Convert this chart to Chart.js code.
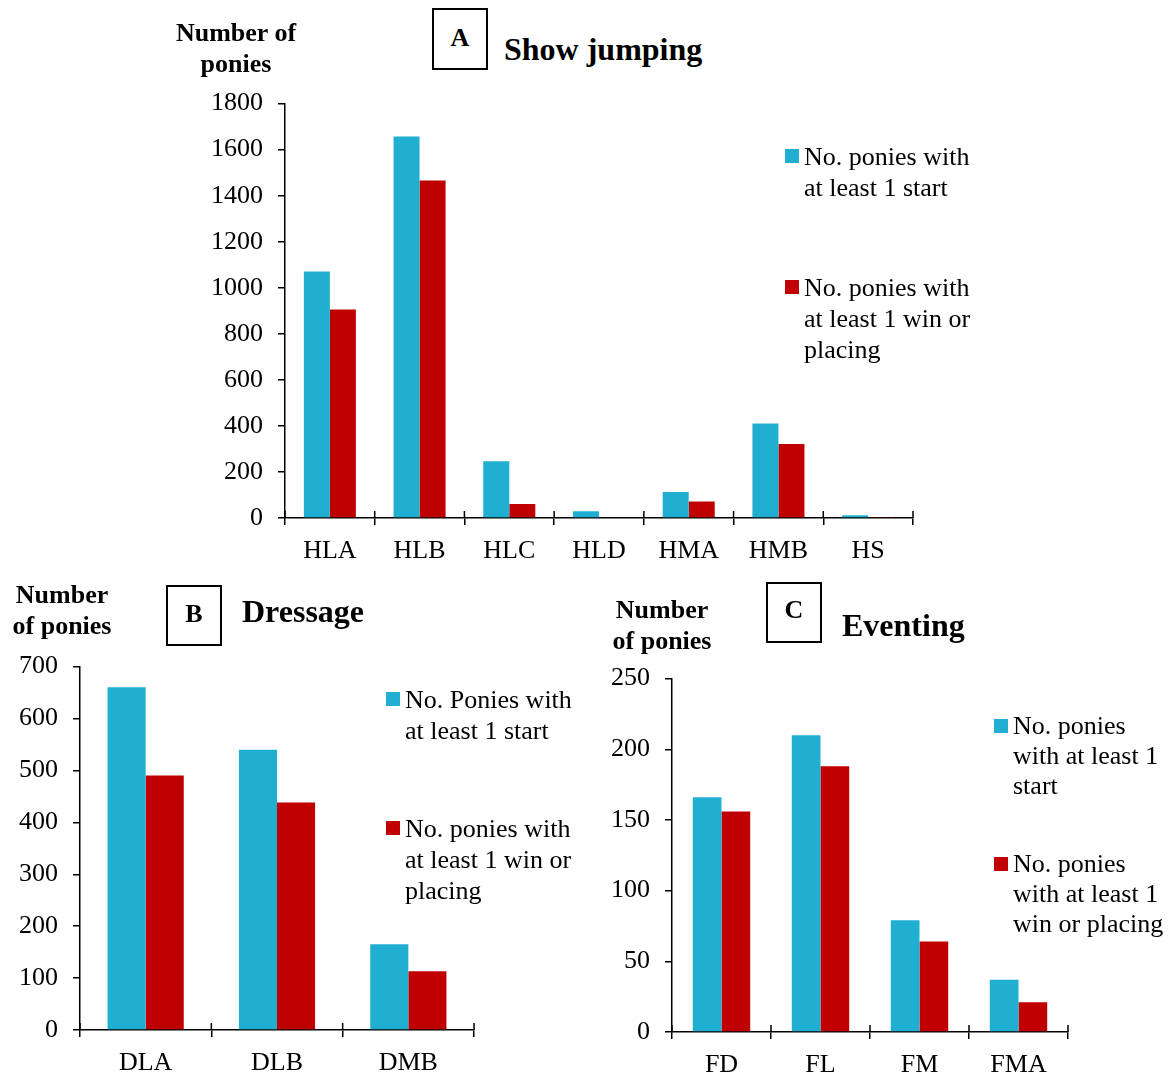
<!DOCTYPE html>
<html>
<head>
<meta charset="utf-8">
<script src="https://cdn.jsdelivr.net/npm/chart.js@4/dist/chart.umd.min.js"></script>
<style>
  html, body { margin: 0; padding: 0; background: #fff; }
  body { width: 1174px; height: 1075px; position: relative; overflow: hidden;
         font-family: 'Liberation Serif', 'Times New Roman', serif; color: #000; }
  canvas { position: absolute; }
  .t { position: absolute; white-space: nowrap; }
  .axt { font-weight: bold; font-size: 26px; line-height: 31px; text-align: center; }
  .box { position: absolute; border: 2px solid #000; box-sizing: border-box;
         font-weight: bold; font-size: 26px; text-align: center; }
  .title { font-weight: bold; font-size: 32px; line-height: 38px; }
  .leg { font-size: 26px; line-height: 31px; }
  .sq { position: absolute; width: 14px; height: 14px; }
</style>
</head>
<body>

<canvas id="chartA" width="730" height="497" style="left:200px;top:73px"></canvas>
<canvas id="chartB" width="490" height="439" style="left:0px;top:636px"></canvas>
<canvas id="chartC" width="500" height="427" style="left:590px;top:648px"></canvas>

<!-- panel A headings -->
<div class="t axt" style="left:146px;top:17px;width:180px">Number of<br>ponies</div>
<div class="box" style="left:432px;top:8px;width:56px;height:62px;line-height:56px">A</div>
<div class="t title" style="left:504px;top:30px">Show jumping</div>

<!-- panel B headings -->
<div class="t axt" style="left:-28px;top:579px;width:180px">Number<br>of ponies</div>
<div class="box" style="left:166px;top:585px;width:56px;height:61px;line-height:54px">B</div>
<div class="t title" style="left:242px;top:592px">Dressage</div>

<!-- panel C headings -->
<div class="t axt" style="left:572px;top:594px;width:180px">Number<br>of ponies</div>
<div class="box" style="left:766px;top:582px;width:56px;height:61px;line-height:52px">C</div>
<div class="t title" style="left:842px;top:606px">Eventing</div>

<div id="legends"></div>

<script>
// Show jumping (panel A)
const jumpCategories = ['HLA', 'HLB', 'HLC', 'HLD', 'HMA', 'HMB', 'HS'];
const jumpStarted = [1071, 1657, 247, 29, 113, 411, 12];
const jumpPlaced = [906, 1466, 61, 3, 72, 321, 2];
const jumpTicks = [0, 200, 400, 600, 800, 1000, 1200, 1400, 1600, 1800];

// Dressage (panel B)
const dressCategories = ['DLA', 'DLB', 'DMB'];
const dressStarted = [660, 540, 165];
const dressPlaced = [490, 438, 113];
const dressTicks = [0, 100, 200, 300, 400, 500, 600, 700];

// Eventing (panel C)
const eventCategories = ['FD', 'FL', 'FM', 'FMA'];
const eventStarted = [166, 210, 79, 37];
const eventPlaced = [156, 188, 64, 21];
const eventTicks = [0, 50, 100, 150, 200, 250];

// legend wording per panel (one entry per line)
const jumpLegend = [['No. ponies with', 'at least 1 start'], ['No. ponies with', 'at least 1 win or', 'placing']];
const dressLegend = [['No. Ponies with', 'at least 1 start'], ['No. ponies with', 'at least 1 win or', 'placing']];
const eventLegend = [['No. ponies', 'with at least 1', 'start'], ['No. ponies', 'with at least 1', 'win or placing']];

const BLUE = '#21AFD1';
const RED = '#C00000';
const FONT = { family: "'Liberation Serif', 'Times New Roman', serif", size: 26 };

// category tick marks cross the x axis: draw the short upper half inside the plot
const crossTicks = {
  id: 'crossTicks',
  afterDraw(chart) {
    const x = chart.scales.x;
    const n = chart.data.labels.length;
    const ctx = chart.ctx;
    ctx.save();
    ctx.strokeStyle = '#000';
    ctx.lineWidth = 1.5;
    ctx.beginPath();
    for (let i = 0; i <= n; i++) {
      const px = x.left + (x.right - x.left) * i / n;
      ctx.moveTo(px, x.top);
      ctx.lineTo(px, x.top - 7);
    }
    ctx.stroke();
    ctx.restore();
  }
};

function makeChart(id, cats, started, placed, ticks, legend, geo) {
  return new Chart(document.getElementById(id), {
    type: 'bar',
    data: {
      labels: cats,
      datasets: [
        { label: legend[0].join(' '), data: started, backgroundColor: BLUE },
        { label: legend[1].join(' '), data: placed, backgroundColor: RED }
      ]
    },
    plugins: [crossTicks],
    options: {
      responsive: false,
      animation: false,
      devicePixelRatio: 1,
      layout: { padding: { top: 0, right: geo.right, left: 0, bottom: 0 } },
      datasets: { bar: { categoryPercentage: 0.58, barPercentage: 1.0 } },
      plugins: { legend: { display: false }, tooltip: { enabled: false } },
      scales: {
        x: {
          grid: { display: true, offset: true, drawOnChartArea: false, tickLength: 7, color: '#000', lineWidth: 1.5 },
          border: { display: true, color: '#000', width: 1.5 },
          ticks: { color: '#000', font: FONT, padding: 11, maxRotation: 0, autoSkip: false },
          afterFit: s => { s.height = geo.xh; }
        },
        y: {
          min: ticks[0],
          max: ticks[ticks.length - 1],
          afterBuildTicks: s => { s.ticks = ticks.map(v => ({ value: v })); },
          grid: { display: true, drawOnChartArea: false, tickLength: 7, color: '#000', lineWidth: 1.5 },
          border: { display: true, color: '#000', width: 1.5 },
          ticks: { color: '#000', font: FONT, padding: 15, callback: v => String(v) },
          afterFit: s => { s.width = geo.yw; }
        }
      }
    }
  });
}

const charts = [
  makeChart('chartA', jumpCategories, jumpStarted, jumpPlaced, jumpTicks, jumpLegend,
            { right: 17, xh: 52, yw: 85 }),
  makeChart('chartB', dressCategories, dressStarted, dressPlaced, dressTicks, dressLegend,
            { right: 16, xh: 45, yw: 80 }),
  makeChart('chartC', eventCategories, eventStarted, eventPlaced, eventTicks, eventLegend,
            { right: 22, xh: 43, yw: 82 })
];

// legend blocks placed beside each panel's plot area
const legendSpots = [
  { legend: jumpLegend, x: 785, ys: [149, 280], lh: 31 },
  { legend: dressLegend, x: 386, ys: [692, 821], lh: 31 },
  { legend: eventLegend, x: 994, ys: [719, 857], lh: 30 }
];
const host = document.getElementById('legends');
legendSpots.forEach((spot, ci) => {
  const ds = charts[ci].data.datasets;
  spot.legend.forEach((lines, i) => {
    const sq = document.createElement('div');
    sq.className = 'sq';
    sq.style.left = spot.x + 'px';
    sq.style.top = spot.ys[i] + 'px';
    sq.style.background = ds[i].backgroundColor;
    host.appendChild(sq);
    const tx = document.createElement('div');
    tx.className = 't leg';
    tx.style.left = (spot.x + 19) + 'px';
    tx.style.top = (spot.ys[i] + 7 - spot.lh / 2) + 'px';
    tx.style.lineHeight = spot.lh + 'px';
    tx.innerHTML = lines.join('<br>');
    host.appendChild(tx);
  });
});
</script>
</body>
</html>
